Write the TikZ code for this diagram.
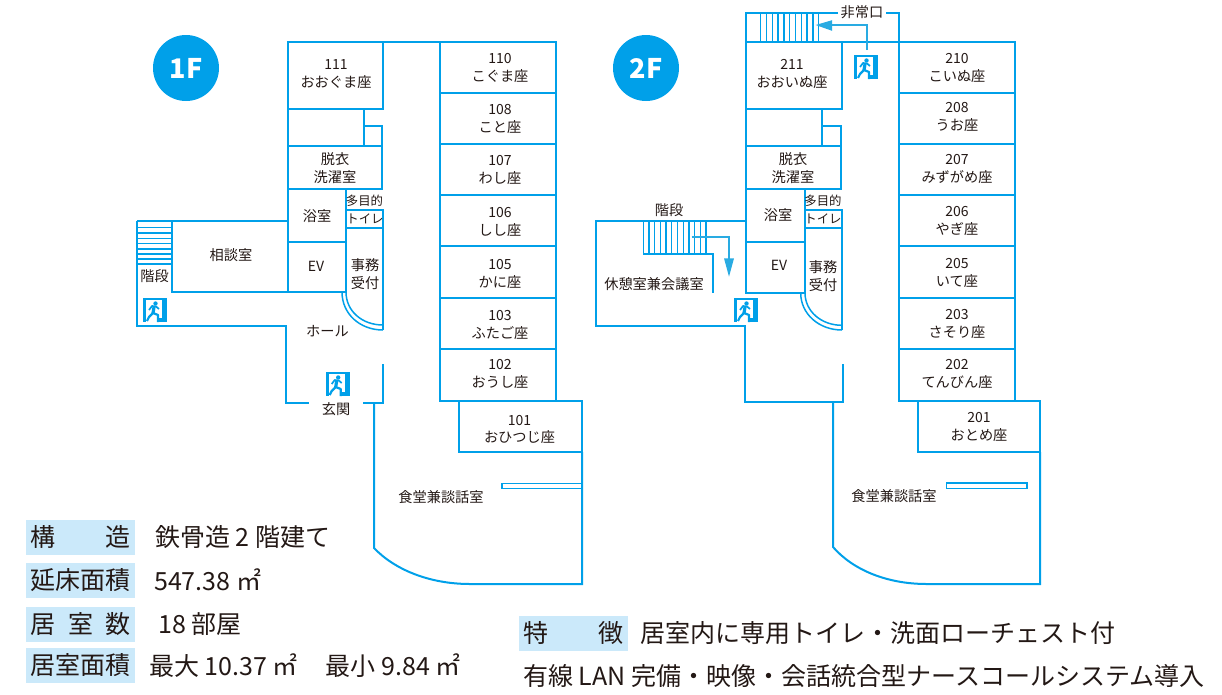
\documentclass[tikz,border=0pt]{standalone}
\usepackage{fontspec}
\setmainfont{Noto Sans CJK JP}
\definecolor{wall}{HTML}{00A0E9}
\definecolor{arrowblue}{HTML}{29ABE2}
\definecolor{labelblue}{HTML}{CBE9FA}
\definecolor{ink}{HTML}{231815}
\tikzstyle{every node}=[text=ink,inner sep=0pt]
\tikzstyle{wallline} = [draw=wall,line width=2pt]
\tikzstyle{stairline} = [draw=wall,line width=1.3pt]
\tikzstyle{roomtext} = [font=\fontsize{14.2}{15}\selectfont]
\tikzstyle{smalltext} = [font=\fontsize{12.4}{13}\selectfont]
\tikzstyle{numtext} = [yshift=-0.6pt,font=\fontsize{14}{15}\selectfont]
\tikzstyle{floorcircle} = [circle,fill=wall,minimum size=66pt,text=white,font=\fontsize{27}{28}\selectfont\bfseries]
\tikzstyle{labelbox} = [fill=labelblue,minimum width=109pt,minimum height=35pt,font=\fontsize{25}{27}\selectfont]
\tikzstyle{infotext} = [anchor=west,font=\fontsize{25}{27}\selectfont]
\tikzset{exitsign/.pic={
	\fill[wall] (-12,-12) rectangle (12,12);
	\fill[white] (-9,-10) rectangle (7,12);
	\fill[wall] (0.5,-6.5) circle (2.2);
	\draw[wall,line width=3.2pt] (-1,-3) -- (-2,3);
	\draw[wall,line width=1.7pt,line join=round] (-6,0) -- (-3,-4) -- (1,-3.5) -- (4,-1);
	\draw[wall,line width=2.2pt,line join=round] (-2,3) -- (-6,7) -- (-8,11);
	\draw[wall,line width=2.2pt,line join=round] (-2,3) -- (3,5) -- (3,12);
	\fill[wall] (3,8) rectangle (12,12);
}}

\begin{document}
\begin{tikzpicture}[x=1pt,y=-1pt]
	\useasboundingbox (0,0) rectangle (1222,694);
	\begin{scope}
		\node[floorcircle] (F1) at (186,68) {1F};
		% rooms on the left side
		\draw[wallline] (288,42) rectangle (383,109);
		\draw[wallline] (288,109) rectangle (364,146);
		\draw[wallline] (364,109) -- (364,126) -- (382,126) -- (382,146);
		\draw[wallline] (288,146) rectangle (382,189);
		\draw[wallline] (288,189) rectangle (346,242);
		\draw[wallline] (288,242) rectangle (346,292);
		\draw[wallline] (346,210) rectangle (383,228);
		\draw[wallline] (346,228) -- (346,292);
		\draw[wallline] (137,221) -- (288,221);
		\draw[wallline] (172,221) -- (172,292) -- (288,292);
		% stairs
		\foreach \y in {227.3,233,238.3,243.7,249,254,259,264}
		{\draw[stairline] (137,\y) -- (172,\y);}
		% outer wall and door
		\draw[wallline] (137,221) -- (137,326) -- (286,326) -- (286,403) -- (309,403);
		\draw[wallline] (363,403) -- (383,403) -- (383,364);
		\draw[wallline] (383,228) -- (383,330);
		\draw[wallline,line width=1.5pt] (346,292) .. controls (346,311) and (362,325) .. (383,325);
		\draw[wallline,line width=1.5pt] (342,292) .. controls (342,314) and (360,330) .. (383,330);
		\draw[wallline] (383,42) -- (440,42);
		% right side
		\foreach \y/\z in {42/93,93/144,144/195,195/246,246/298,298/349,349/401}
		{\draw[wallline] (440,\y) rectangle (556,\z);}
		\draw[wallline] (459,401) rectangle (582,452);
		\draw[wallline] (582,452) -- (582,584) -- (470,584) .. controls (430,584) and (395,570) .. (374,548) -- (374,403);
		\draw[wallline,line width=1.4pt] (582,483.3) -- (501.8,483.3) -- (501.8,488.7) -- (582,488.7);
		\pic at (155,310) {exitsign};
		\pic at (337.7,384) {exitsign};
		\node[numtext] (n111) at (336,63.5) {111};
		\node[roomtext] (t111) at (336,82) {おおぐま座};
		\node[roomtext] (datsui) at (335,159) {脱衣};
		\node[roomtext] (sentaku) at (335,177) {洗濯室};
		\node[roomtext] (yokushitsu) at (317,216) {浴室};
		\node[smalltext] (tamokuteki) at (364.5,201) {多目的};
		\node[smalltext] (toilet) at (365,219) {トイレ};
		\node[roomtext] (sodan) at (231,255) {相談室};
		\node[numtext] (ev) at (316,266) {EV};
		\node[roomtext] (jimu) at (365,265) {事務};
		\node[roomtext] (uketsuke) at (365,283) {受付};
		\node[roomtext] (kaidan) at (154.5,276) {階段};
		\node[roomtext] (hall) at (327.5,331) {ホール};
		\node[roomtext] (genkan) at (336,409) {玄関};
		\node[roomtext] (shokudo) at (441,497) {食堂兼談話室};
		\foreach \n/\t/\y in {110/こぐま座/58,108/こと座/109,107/わし座/160,106/しし座/212,105/かに座/264,103/ふたご座/315,102/おうし座/364}
		{\node[numtext] (n\n) at (500,\y) {\n};
		\node[roomtext] (t\n) at (500,\y+18) {\t};}
		\node[numtext] (n101) at (519.5,420) {101};
		\node[roomtext] (t101) at (519.5,437.5) {おひつじ座};
	\end{scope}
	\begin{scope}[xshift=459pt]
		\node[floorcircle] (F2) at (187,68) {2F};
		% emergency stairs on top
		\draw[wallline] (379,13) -- (287,13) -- (287,42) -- (556,42);
		\draw[wallline] (427,13) -- (440,13) -- (440,42);
		\foreach \x in {301.7,307.5,...,361}
		{\draw[stairline] (\x,13) -- (\x,42);}
		\draw[draw=arrowblue,line width=1.7pt] (408,50) -- (408,25) -- (370,25);
		\fill[arrowblue] (356.7,25) -- (373,20.2) -- (373,30.8) -- cycle;
		% rooms on the left side
		\draw[wallline] (287,42) rectangle (383,109);
		\draw[wallline] (287,109) rectangle (363,146);
		\draw[wallline] (363,109) -- (363,126) -- (382,126) -- (382,146);
		\draw[wallline] (287,146) rectangle (382,189);
		\draw[wallline] (287,189) rectangle (346,242);
		\draw[wallline] (287,242) rectangle (346,293);
		\draw[wallline] (346,210) rectangle (383,228);
		\draw[wallline] (346,228) -- (346,293);
		\draw[wallline] (383,228) -- (383,330);
		\draw[wallline,line width=1.5pt] (346,293) .. controls (346,311) and (362,325.3) .. (383,325.3);
		\draw[wallline,line width=1.5pt] (341.7,293) .. controls (341.7,314) and (360,330) .. (383,330);
		% lounge and stairs
		\draw[wallline] (287,221) -- (137,221) -- (137,326) -- (286,326) -- (286,402) -- (384,402) -- (384,364);
		\foreach \x in {184.3,190,...,248}
		{\draw[stairline] (\x,221) -- (\x,254);}
		\draw[wallline] (184.3,254) -- (254,254) -- (254,293);
		\draw[draw=arrowblue,line width=1.7pt] (232.7,236.7) -- (270,236.7) -- (270,262);
		\fill[arrowblue] (270,276.7) -- (265,258.3) -- (275,258.3) -- cycle;
		% right side
		\foreach \y/\z in {42/93,93/144,144/195,195/246,246/298,298/349,349/401}
		{\draw[wallline] (440,\y) rectangle (556,\z);}
		\draw[wallline] (459,401) rectangle (581,452);
		\draw[wallline] (581,452) -- (581,584) -- (467.7,584) .. controls (428,584) and (394,570) .. (374,547) -- (374,402);
		\draw[wallline,line width=1.4pt] (487.7,483) rectangle (568,488.7);
		\pic at (407,67) {exitsign};
		\pic at (287,310) {exitsign};
		\node[numtext] (n211) at (333,63.5) {211};
		\node[roomtext] (t211) at (333,82) {おおいぬ座};
		\node[roomtext] (hijoguchi) at (403,12) {非常口};
		\node[roomtext] (datsui2) at (334,159) {脱衣};
		\node[roomtext] (sentaku2) at (334,177) {洗濯室};
		\node[roomtext] (yokushitsu2) at (319,215) {浴室};
		\node[smalltext] (tamokuteki2) at (364,201) {多目的};
		\node[smalltext] (toilet2) at (364,219) {トイレ};
		\node[numtext] (ev2) at (320,265) {EV};
		\node[roomtext] (jimu2) at (364,267) {事務};
		\node[roomtext] (uketsuke2) at (364,285) {受付};
		\node[roomtext] (kaidan2) at (210,210) {階段};
		\node[roomtext] (kyukei) at (195,284) {休憩室兼会議室};
		\node[roomtext] (shokudo2) at (435,496) {食堂兼談話室};
		\foreach \n/\t/\y in {210/こいぬ座/58,208/うお座/107,207/みずがめ座/159,206/やぎ座/211,205/いて座/263,203/さそり座/314,202/てんびん座/364}
		{\node[numtext] (n\n) at (498,\y) {\n};
		\node[roomtext] (t\n) at (498,\y+18) {\t};}
		\node[numtext] (n201) at (520,417) {201};
		\node[roomtext] (t201) at (520,435) {おとめ座};
	\end{scope}
	% table at the bottom
	\node[labelbox] (l1) at (80.8,537.4) {\makebox[100pt]{構\hfill 造}};
	\node[labelbox] (l2) at (80.8,580.2) {\makebox[100pt]{延\hfill 床\hfill 面\hfill 積}};
	\node[labelbox] (l3) at (80.8,624.4) {\makebox[100pt]{居\hfill 室\hfill 数}};
	\node[labelbox] (l4) at (80.8,665.4) {\makebox[100pt]{居\hfill 室\hfill 面\hfill 積}};
	\node[labelbox] (l5) at (573.5,633.5) {\makebox[100pt]{特\hfill 徴}};
	\node[infotext] (i1) at (155,537.4) {鉄骨造 2 階建て};
	\node[infotext] (i2) at (154,580.2) {547.38 ㎡};
	\node[infotext] (i3) at (158,624.4) {18 部屋};
	\node[infotext] (i4) at (149,665.4) {最大 10.37 ㎡\hspace{28pt}最小 9.84 ㎡};
	\node[infotext] (i5) at (640,633.5) {居室内に専用トイレ・洗面ローチェスト付};
	\node[infotext] (i6) at (523,676) {有線 LAN 完備・映像・会話統合型ナースコールシステム導入};
\end{tikzpicture}
\end{document}
